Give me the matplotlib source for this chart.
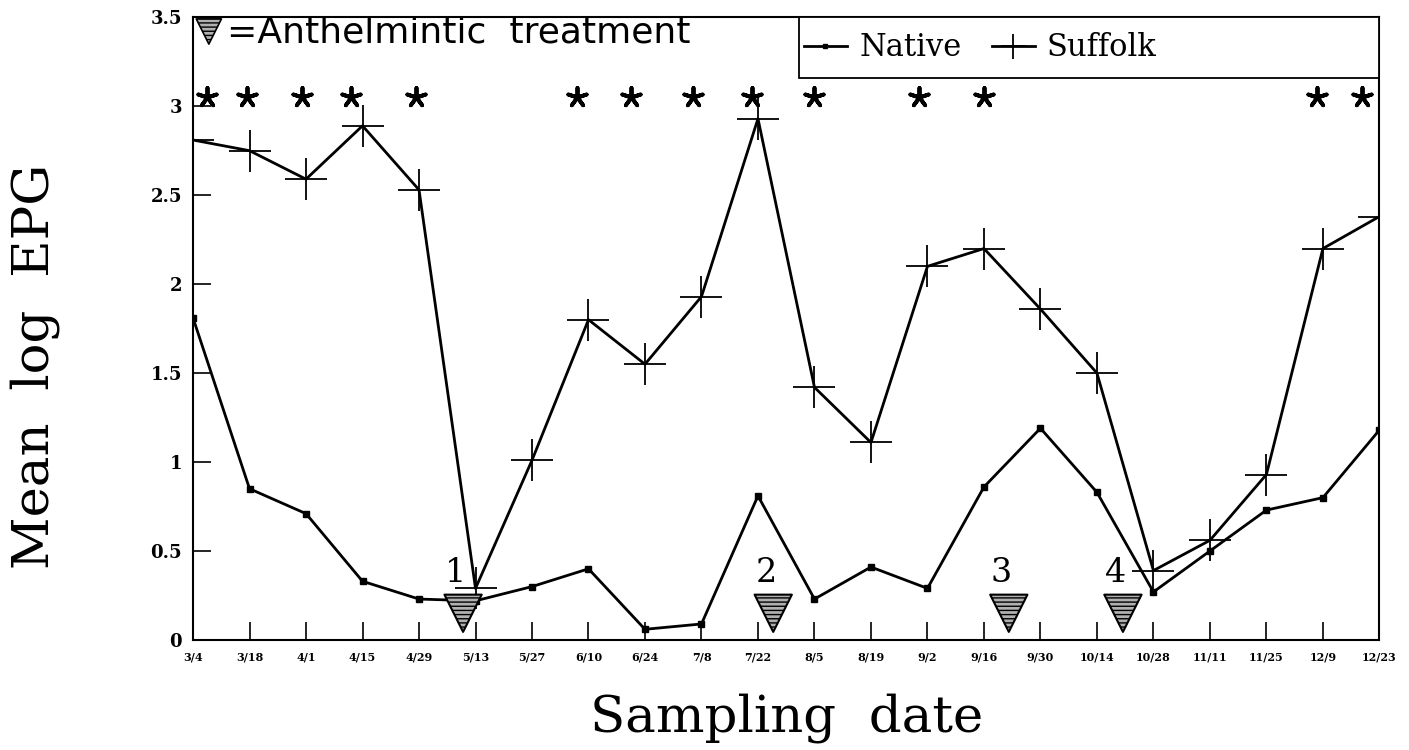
import matplotlib
matplotlib.use("Agg")
import matplotlib.pyplot as plt
from matplotlib.patches import Rectangle
import numpy as np

dates = ["3/4", "3/18", "4/1", "4/15", "4/29", "5/13", "5/27", "6/10", "6/24", "7/8",
         "7/22", "8/5", "8/19", "9/2", "9/16", "9/30", "10/14", "10/28", "11/11",
         "11/25", "12/9", "12/23"]
native = [1.81, 0.85, 0.71, 0.33, 0.23, 0.22, 0.30, 0.40, 0.06, 0.09, 0.81, 0.23,
          0.41, 0.29, 0.86, 1.19, 0.83, 0.27, 0.50, 0.73, 0.80, 1.18]
suffolk = [2.81, 2.75, 2.59, 2.89, 2.53, 0.29, 1.01, 1.80, 1.55, 1.93, 2.93, 1.42,
           1.11, 2.10, 2.20, 1.86, 1.50, 0.39, 0.56, 0.93, 2.20, 2.38]
# significance stars (x position in sampling-index units)
star_x = [0.25, 0.95, 1.92, 2.8, 3.95, 6.8, 7.75, 8.85, 9.9, 11.0, 12.85, 14.0, 19.9, 20.7]
# anthelmintic treatments (x position in sampling-index units)
treat_x = [4.78, 10.27, 14.44, 16.46]
treat_labels = ["1", "2", "3", "4"]

SERIF = "DejaVu Serif"

fig = plt.figure(figsize=(14.09, 7.5), dpi=100)
ax = fig.add_axes([0.137, 0.1467, 0.842, 0.8303])
x = np.arange(len(dates))

ax.plot(x, native, color="black", lw=2, marker="s", ms=4, label="Native", zorder=3)
ax.plot(x, suffolk, color="black", lw=2, marker="+", ms=30, mew=1.3, label="Suffolk", zorder=3)

ax.scatter(star_x, [3.05] * len(star_x), marker=(5, 2, 0), s=190, color="black",
           linewidths=2.8, zorder=4, clip_on=False)

ax.scatter(treat_x, [0.15] * len(treat_x), marker="v", s=720, facecolor="#b0b0b0",
           edgecolor="black", linewidths=1.5, hatch="----", zorder=5, clip_on=False)
for tx, tl in zip(treat_x, treat_labels):
    ax.text(tx - 0.13, 0.375, tl, ha="center", va="center", fontsize=24,
            family=SERIF, zorder=6)

ax.text(0.6, 3.415, "=Anthelmintic  treatment", ha="left", va="center",
        fontsize=26, family="DejaVu Sans")
ax.scatter([0.28], [3.42], marker="v", s=330, facecolor="#b0b0b0", edgecolor="black",
           linewidths=1.2, hatch="----")

ax.set_xlim(0, len(dates) - 1)
ax.set_ylim(0, 3.5)
ax.set_xticks(x)
ax.set_xticklabels(dates, fontsize=8, fontweight="bold", family=SERIF)
ax.set_yticks([0, 0.5, 1, 1.5, 2, 2.5, 3, 3.5])
ax.set_yticklabels(["0", "0.5", "1", "1.5", "2", "2.5", "3", "3.5"], fontsize=13,
                   fontweight="bold", family=SERIF)
ax.tick_params(axis="both", direction="in", length=13, width=1.2, pad=8)
for s in ax.spines.values():
    s.set_linewidth(1.5)

ax.set_ylabel("Mean  log  EPG", fontsize=37, family=SERIF)
ax.yaxis.set_label_coords(-0.112, 0.44)
ax.set_xlabel("Sampling  date", fontsize=37, family=SERIF, labelpad=22)

# legend box
box = Rectangle((0.511, 0.902), 0.489, 0.098, transform=ax.transAxes, fill=True,
                facecolor="white", edgecolor="black", lw=1.3, zorder=7)
ax.add_patch(box)
leg = ax.legend(loc="center left", ncol=2, bbox_to_anchor=(0.515, 0.951),
                frameon=False, prop={"family": SERIF, "size": 22}, handlelength=1.4,
                handletextpad=0.4, markerscale=0.6, columnspacing=1.0,
                borderaxespad=0, borderpad=0)
leg.set_zorder(8)

fig.savefig("out.png", dpi=100)
